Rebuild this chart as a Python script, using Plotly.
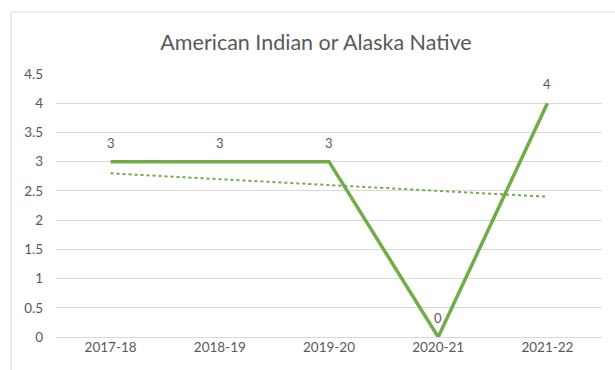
import plotly.graph_objects as go

# Academic years and counts
years = ["2017-18", "2018-19", "2019-20", "2020-21", "2021-22"]
counts = [3, 3, 3, 0, 4]
# Linear trend of the counts
trend = [2.8, 2.7, 2.6, 2.5, 2.4]
y_ticks = [0, 0.5, 1, 1.5, 2, 2.5, 3, 3.5, 4, 4.5]

GREEN = "#70AD47"
TEXT = "#595959"
FONT = "Lato, Carlito, Calibri, sans-serif"

W, H = 615, 370
ML, MR, MT, MB = 56, 13, 74, 33
pw, ph = W - ML - MR, H - MT - MB


def px_x(p):
    return (p - ML) / pw


def px_y(p):
    return (H - MB - p) / ph


fig = go.Figure()

fig.add_trace(go.Scatter(
    x=years, y=counts, mode="lines",
    line=dict(color=GREEN, width=3.5),
    showlegend=False, hoverinfo="x+y",
))

fig.add_trace(go.Scatter(
    x=years, y=trend, mode="lines",
    line=dict(color=GREEN, width=2, dash="dot"),
    showlegend=False, hoverinfo="skip",
))

# Value labels sitting above each point
annotations = [
    dict(x=yr, y=v, xref="x", yref="y", text=str(v), showarrow=False,
         yshift=19, yanchor="middle",
         font=dict(family=FONT, size=13, color=TEXT))
    for yr, v in zip(years, counts)
]

fig.update_layout(
    width=W, height=H,
    margin=dict(l=ML, r=MR, t=MT, b=MB),
    paper_bgcolor="white", plot_bgcolor="white",
    title=dict(
        text="American Indian or Alaska Native",
        x=316 / W, xanchor="center", xref="container",
        y=1 - 42 / H, yanchor="middle",
        font=dict(family=FONT, size=21.5, color=TEXT),
    ),
    xaxis=dict(
        type="category", showgrid=False, zeroline=False,
        showline=False, ticks="",
        tickfont=dict(family=FONT, size=13.5, color=TEXT),
        range=[-0.5, 4.5],
    ),
    yaxis=dict(
        range=[0, 4.5], tickvals=y_ticks,
        ticktext=[f"{v:g}" for v in y_ticks],
        showgrid=True, gridcolor="#D9D9D9", gridwidth=1,
        zeroline=True, zerolinecolor="#D9D9D9", zerolinewidth=1,
        showline=False, ticks="", ticklabelstandoff=12,
        tickfont=dict(family=FONT, size=13.5, color=TEXT),
    ),
    annotations=annotations,
    shapes=[dict(
        type="rect", xref="paper", yref="paper",
        x0=px_x(11), x1=px_x(W + 5), y0=px_y(H + 5), y1=px_y(12),
        line=dict(color="#D9D9D9", width=1), fillcolor="rgba(0,0,0,0)",
        layer="below",
    )],
)

fig.write_html("out.html")
